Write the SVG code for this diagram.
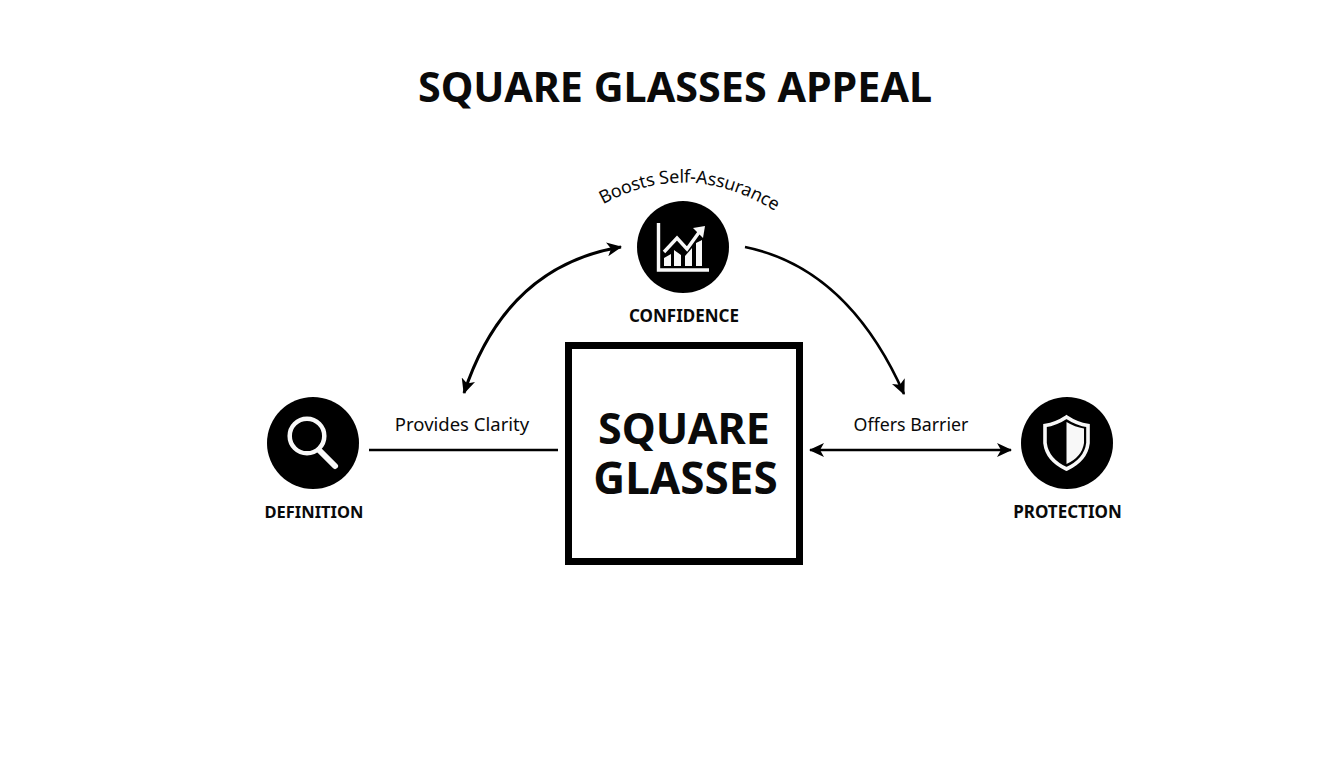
<svg xmlns="http://www.w3.org/2000/svg" width="1344" height="768" viewBox="0 0 1344 768">
<style>
text{font-family:"Noto Sans","Open Sans","Liberation Sans",sans-serif;fill:#0a0a0a;text-anchor:middle}
.t{font-size:41.300px;font-weight:700}
.h{font-size:43px;font-weight:700}
.n{font-size:17px;font-weight:700}
.l{font-size:18px;font-weight:400}
.c{fill:none;stroke:#000;stroke-width:2.600}
.d{fill:#000}
.i{fill:none;stroke:#f8f8f8;stroke-width:3.400}
</style>
<defs>
<marker id="a" viewBox="0 0 15 14" refX="14" refY="7" markerWidth="15" markerHeight="14" markerUnits="userSpaceOnUse" orient="auto-start-reverse"><path d="M0 0L15 7L0 14L4 7Z" fill="#000"/></marker>
<path id="arc" d="M600 206Q688 156 778 213"/>
</defs>
<rect width="1344" height="768" fill="#fff"/>
<text class="t" x="675" y="102">SQUARE GLASSES APPEAL</text>
<g id="connectors">
<path class="c" style="stroke-width:3" d="M464 393Q506 266 621 247" marker-start="url(#a)" marker-end="url(#a)"/>
<path class="c" d="M745 247Q848 268 904 394" marker-end="url(#a)"/>
<path class="c" d="M369 450H558"/>
<path class="c" d="M810 450H1011" marker-start="url(#a)" marker-end="url(#a)"/>
<text class="l" style="font-size:18.500px" x="462" y="431">Provides Clarity</text>
<text class="l" style="font-size:17.800px" x="911" y="431">Offers Barrier</text>
<text class="l" style="letter-spacing:-.2px"><textPath href="#arc" startOffset="50%">Boosts Self-Assurance</textPath></text>
</g>
<g id="square-glasses">
<rect x="568.500" y="345.500" width="231" height="216" fill="#fff" stroke="#000" stroke-width="7"/>
<text class="h"><tspan x="684" y="444">SQUARE</tspan><tspan x="685.500" y="494" style="font-size:44px">GLASSES</tspan></text>
</g>
<g id="confidence">
<circle class="d" cx="683" cy="247" r="46"/>
<path class="i" d="M658.500 223V270H709"/>
<path d="M664 266V258L671 254V266ZM674 266V250L681 255V266ZM685 266V256L692 248V266ZM696 266V243L702 240V266Z" fill="#f8f8f8"/>
<path class="i" d="M664 252L677 238L687 249L700 231"/>
<path d="M693 228L705 226L703 238Z" fill="#f8f8f8"/>
<text class="n" x="684" y="322">CONFIDENCE</text>
</g>
<g id="definition">
<circle class="d" cx="313" cy="443" r="46"/>
<circle cx="307" cy="436" r="17.300" fill="none" stroke="#f8f8f8" stroke-width="4.500"/>
<path d="M319 450L335 466" fill="none" stroke="#f8f8f8" stroke-width="6" stroke-linecap="round"/>
<text class="n" style="font-size:16.500px" x="314" y="518">DEFINITION</text>
</g>
<g id="protection">
<circle class="d" cx="1067" cy="443" r="46"/>
<path d="M1066.500 417Q1056 424 1045 425.500V443Q1047 460 1066.500 469Q1086 460 1088 443V425.500Q1077 424 1066.500 417Z" fill="none" stroke="#f8f8f8" stroke-width="3.600"/>
<path d="M1066.500 422Q1075 427 1084 428.500V443Q1082 457 1066.500 464Z" fill="#f8f8f8"/>
<text class="n" x="1067.500" y="518">PROTECTION</text>
</g>
</svg>
